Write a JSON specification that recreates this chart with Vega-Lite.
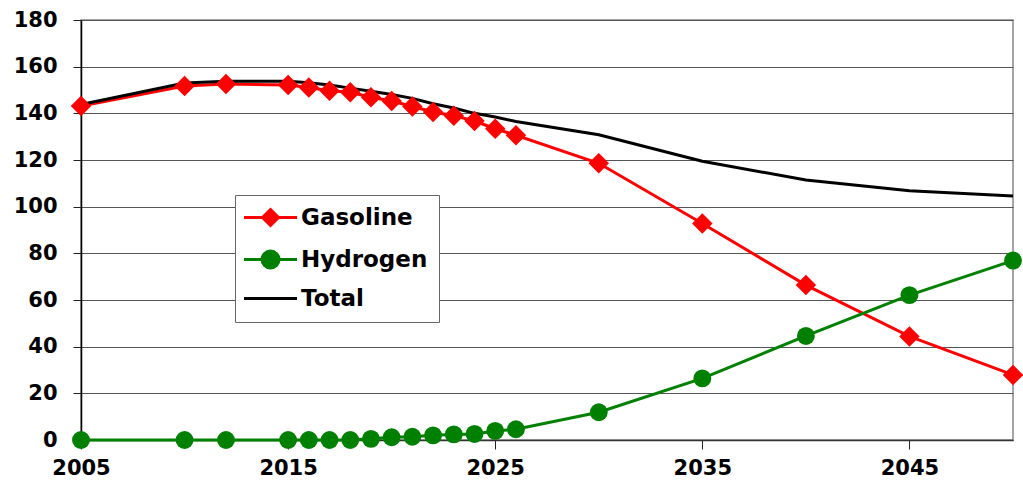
{
  "$schema": "https://vega.github.io/schema/vega-lite/v6.json",
  "width": 932,
  "height": 420,
  "autosize": "none",
  "padding": {"left": 81, "top": 20, "right": 10, "bottom": 54},
  "background": "white",
  "config": {
    "view": {"stroke": "#888888", "strokeWidth": 1.5},
    "font": "DejaVu Sans"
  },
  "data": {
    "values": [
      {"year": 2005, "series": "Gasoline", "value": 143.1},
      {"year": 2010, "series": "Gasoline", "value": 151.7},
      {"year": 2012, "series": "Gasoline", "value": 152.6},
      {"year": 2015, "series": "Gasoline", "value": 152.1},
      {"year": 2016, "series": "Gasoline", "value": 151.1},
      {"year": 2017, "series": "Gasoline", "value": 149.7},
      {"year": 2018, "series": "Gasoline", "value": 149.0},
      {"year": 2019, "series": "Gasoline", "value": 146.9},
      {"year": 2020, "series": "Gasoline", "value": 145.3},
      {"year": 2021, "series": "Gasoline", "value": 142.9},
      {"year": 2022, "series": "Gasoline", "value": 140.6},
      {"year": 2023, "series": "Gasoline", "value": 139.0},
      {"year": 2024, "series": "Gasoline", "value": 136.7},
      {"year": 2025, "series": "Gasoline", "value": 133.4},
      {"year": 2026, "series": "Gasoline", "value": 130.6},
      {"year": 2030, "series": "Gasoline", "value": 118.6},
      {"year": 2035, "series": "Gasoline", "value": 92.8},
      {"year": 2040, "series": "Gasoline", "value": 66.4},
      {"year": 2045, "series": "Gasoline", "value": 44.4},
      {"year": 2050, "series": "Gasoline", "value": 27.9},
      {"year": 2005, "series": "Hydrogen", "value": 0},
      {"year": 2010, "series": "Hydrogen", "value": 0},
      {"year": 2012, "series": "Hydrogen", "value": 0},
      {"year": 2015, "series": "Hydrogen", "value": 0},
      {"year": 2016, "series": "Hydrogen", "value": 0},
      {"year": 2017, "series": "Hydrogen", "value": 0},
      {"year": 2018, "series": "Hydrogen", "value": 0},
      {"year": 2019, "series": "Hydrogen", "value": 0.5},
      {"year": 2020, "series": "Hydrogen", "value": 1.2},
      {"year": 2021, "series": "Hydrogen", "value": 1.4},
      {"year": 2022, "series": "Hydrogen", "value": 2.0},
      {"year": 2023, "series": "Hydrogen", "value": 2.4},
      {"year": 2024, "series": "Hydrogen", "value": 2.6},
      {"year": 2025, "series": "Hydrogen", "value": 3.9},
      {"year": 2026, "series": "Hydrogen", "value": 4.6},
      {"year": 2030, "series": "Hydrogen", "value": 11.9},
      {"year": 2035, "series": "Hydrogen", "value": 26.4},
      {"year": 2040, "series": "Hydrogen", "value": 44.6},
      {"year": 2045, "series": "Hydrogen", "value": 62.1},
      {"year": 2050, "series": "Hydrogen", "value": 76.9},
      {"year": 2005, "series": "Total", "value": 143.8},
      {"year": 2010, "series": "Total", "value": 153.0},
      {"year": 2012, "series": "Total", "value": 153.8},
      {"year": 2015, "series": "Total", "value": 153.8},
      {"year": 2016, "series": "Total", "value": 153.1},
      {"year": 2017, "series": "Total", "value": 152.1},
      {"year": 2018, "series": "Total", "value": 150.8},
      {"year": 2019, "series": "Total", "value": 149.5},
      {"year": 2020, "series": "Total", "value": 148.1},
      {"year": 2021, "series": "Total", "value": 146.4},
      {"year": 2022, "series": "Total", "value": 144.1},
      {"year": 2023, "series": "Total", "value": 142.3},
      {"year": 2024, "series": "Total", "value": 140.0},
      {"year": 2025, "series": "Total", "value": 138.4},
      {"year": 2026, "series": "Total", "value": 136.5},
      {"year": 2030, "series": "Total", "value": 130.8},
      {"year": 2035, "series": "Total", "value": 119.5},
      {"year": 2040, "series": "Total", "value": 111.4},
      {"year": 2045, "series": "Total", "value": 106.8},
      {"year": 2050, "series": "Total", "value": 104.6}
    ]
  },
  "encoding": {
    "x": {
      "field": "year",
      "type": "quantitative",
      "scale": {"domain": [2005, 2050], "nice": false, "zero": false},
      "axis": {
        "title": null,
        "values": [2005, 2015, 2025, 2035, 2045],
        "format": "d",
        "grid": false,
        "tickSize": 9,
        "tickColor": "#222222",
        "labelPadding": 8,
        "labelFont": "DejaVu Sans",
        "labelFontSize": 21,
        "labelFontWeight": "bold",
        "labelColor": "black",
        "labelOverlap": false,
        "labelFlush": false,
        "domainColor": "#333333",
        "domainWidth": 1.5
      }
    },
    "y": {
      "field": "value",
      "type": "quantitative",
      "scale": {"domain": [0, 180], "nice": false},
      "axis": {
        "title": null,
        "values": [0, 20, 40, 60, 80, 100, 120, 140, 160, 180],
        "grid": true,
        "gridColor": "#555555",
        "gridWidth": 1,
        "tickSize": 8,
        "tickColor": "#222222",
        "labelPadding": 16,
        "labelFont": "DejaVu Sans",
        "labelFontSize": 21,
        "labelFontWeight": "bold",
        "labelColor": "black",
        "domainColor": "black",
        "domainWidth": 1.5
      }
    }
  },
  "layer": [
    {
      "mark": {"type": "line", "strokeWidth": 3, "clip": false},
      "encoding": {
        "color": {
          "field": "series",
          "type": "nominal",
          "scale": {"domain": ["Gasoline", "Hydrogen", "Total"], "range": ["#ff0000", "#008000", "#000000"]},
          "legend": {
            "title": null,
            "orient": "none",
            "legendX": 154,
            "legendY": 175,
            "padding": 11,
            "rowPadding": 13,
            "fillColor": "white",
            "strokeColor": "#666666",
            "symbolSize": 400,
            "symbolStrokeWidth": 3,
            "symbolOffset": 13,
            "labelOffset": 19,
            "labelFont": "DejaVu Sans",
            "labelFontSize": 23,
            "labelFontWeight": "bold",
            "labelColor": "black",
            "encode": {
              "symbols": {
                "update": {
                  "shape": {"signal": "datum.value === 'Gasoline' ? 'M-2.65,0H2.65M0,-0.8L0.8,0L0,0.8L-0.8,0Z' : datum.value === 'Hydrogen' ? 'M-2.65,0H2.65M-0.85,0A0.85,0.85,0,1,0,0.85,0A0.85,0.85,0,1,0,-0.85,0Z' : 'M-2.65,0H2.65'"},
                  "fill": {"signal": "datum.value === 'Gasoline' ? '#ff0000' : datum.value === 'Hydrogen' ? '#008000' : 'transparent'"},
                  "stroke": {"signal": "datum.value === 'Gasoline' ? '#ff0000' : datum.value === 'Hydrogen' ? '#008000' : '#000000'"},
                  "strokeWidth": {"value": 3},
                  "opacity": {"value": 1}
                }
              }
            }
          }
        }
      }
    },
    {
      "transform": [{"filter": "datum.series !== 'Total'"}],
      "mark": {"type": "point", "filled": true, "opacity": 1, "clip": false},
      "encoding": {
        "color": {"field": "series", "type": "nominal"},
        "shape": {
          "field": "series",
          "type": "nominal",
          "scale": {"domain": ["Gasoline", "Hydrogen"], "range": ["diamond", "circle"]},
          "legend": null
        },
        "size": {
          "field": "series",
          "type": "nominal",
          "scale": {"domain": ["Gasoline", "Hydrogen"], "range": [420, 320]},
          "legend": null
        }
      }
    }
  ]
}
